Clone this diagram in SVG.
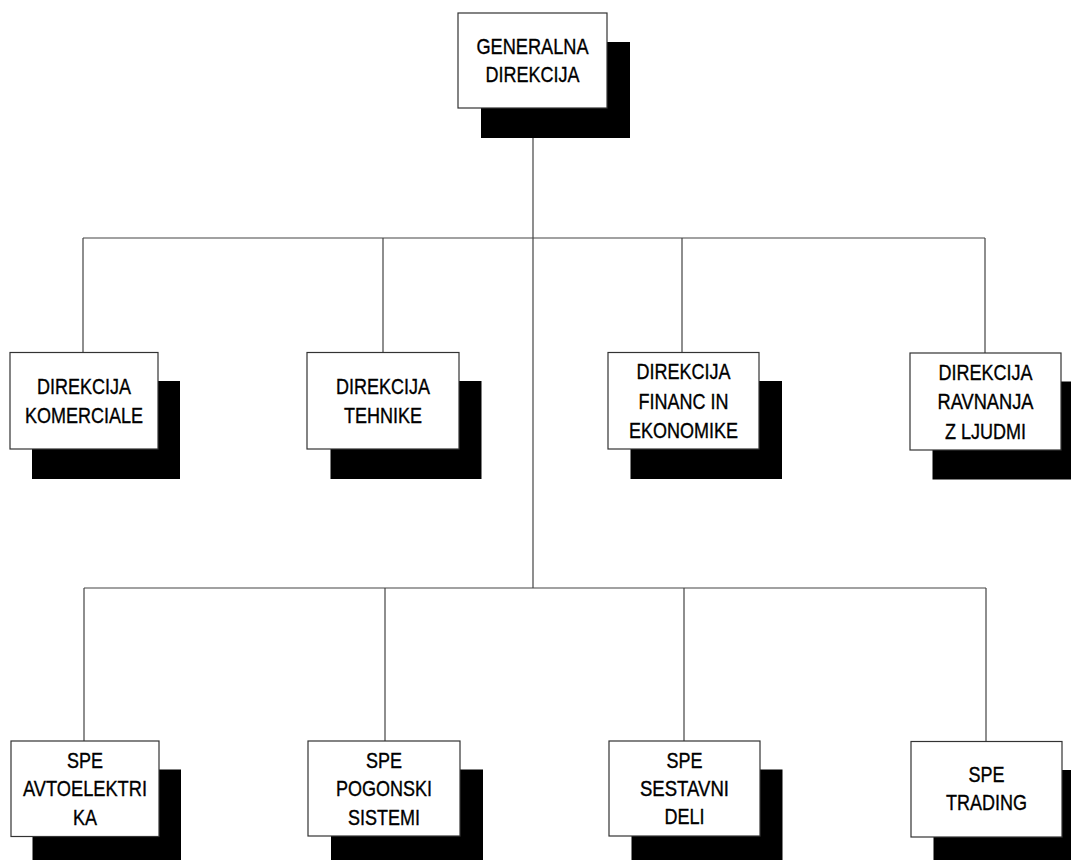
<svg xmlns="http://www.w3.org/2000/svg" width="1071" height="860" viewBox="0 0 1071 860">
<style>
.sh{fill:#000}
.bx{fill:#fff;stroke:#333;stroke-width:1.2}
.t{font-family:"Liberation Sans",Arial,sans-serif;font-size:21.5px;fill:#000;stroke:#000;stroke-width:0.35;text-anchor:middle}
.c{stroke:#444;stroke-width:1.2;fill:none}
</style>
<rect width="1071" height="860" fill="#fff"/>
<g id="connectors">
<path class="c" d="M533 108V588"/>
<path class="c" d="M83 238H985"/>
<path class="c" d="M83 238V352M383 238V352M682 238V352M985 238V353"/>
<path class="c" d="M84 588H986"/>
<path class="c" d="M84 588V741M385 588V741M684 588V741M986 588V742"/>
</g>
<g id="n-generalna">
<rect class="sh" x="481" y="42" width="149" height="96"/>
<rect class="bx" x="458" y="13" width="149" height="95"/>
<text class="t" x="532.5" y="54" textLength="112" lengthAdjust="spacingAndGlyphs">GENERALNA</text>
<text class="t" x="532.5" y="82" textLength="94" lengthAdjust="spacingAndGlyphs">DIREKCIJA</text>
</g>
<g id="n-komerciale">
<rect class="sh" x="32" y="381" width="148" height="98"/>
<rect class="bx" x="10" y="352.5" width="148" height="96.5"/>
<text class="t" x="84" y="394" textLength="94" lengthAdjust="spacingAndGlyphs">DIREKCIJA</text>
<text class="t" x="84" y="422.7" textLength="118" lengthAdjust="spacingAndGlyphs">KOMERCIALE</text>
</g>
<g id="n-tehnike">
<rect class="sh" x="330.5" y="381" width="151" height="98"/>
<rect class="bx" x="307" y="352.5" width="152" height="96.5"/>
<text class="t" x="383" y="394" textLength="94" lengthAdjust="spacingAndGlyphs">DIREKCIJA</text>
<text class="t" x="383" y="422.5" textLength="78" lengthAdjust="spacingAndGlyphs">TEHNIKE</text>
</g>
<g id="n-financ">
<rect class="sh" x="630.5" y="381" width="151.5" height="98"/>
<rect class="bx" x="608" y="352.5" width="151" height="96.5"/>
<text class="t" x="683.5" y="379" textLength="94" lengthAdjust="spacingAndGlyphs">DIREKCIJA</text>
<text class="t" x="683.5" y="409" textLength="90" lengthAdjust="spacingAndGlyphs">FINANC IN</text>
<text class="t" x="683.5" y="437.5" textLength="109" lengthAdjust="spacingAndGlyphs">EKONOMIKE</text>
</g>
<g id="n-ravnanja">
<rect class="sh" x="932.5" y="381.5" width="151" height="98"/>
<rect class="bx" x="910" y="353" width="151" height="97"/>
<text class="t" x="985.5" y="380" textLength="94" lengthAdjust="spacingAndGlyphs">DIREKCIJA</text>
<text class="t" x="985.5" y="409.3" textLength="96" lengthAdjust="spacingAndGlyphs">RAVNANJA</text>
<text class="t" x="985.5" y="439" textLength="81" lengthAdjust="spacingAndGlyphs">Z LJUDMI</text>
</g>
<g id="n-avtoelektrika">
<rect class="sh" x="32.5" y="769.5" width="148.5" height="100"/>
<rect class="bx" x="11" y="741" width="148" height="95.5"/>
<text class="t" x="85" y="767.5" textLength="36" lengthAdjust="spacingAndGlyphs">SPE</text>
<text class="t" x="85" y="796" textLength="124" lengthAdjust="spacingAndGlyphs">AVTOELEKTRI</text>
<text class="t" x="85" y="824.5" textLength="24" lengthAdjust="spacingAndGlyphs">KA</text>
</g>
<g id="n-pogonski">
<rect class="sh" x="331" y="769.5" width="152" height="100"/>
<rect class="bx" x="308" y="741" width="152" height="95"/>
<text class="t" x="384" y="767.5" textLength="36" lengthAdjust="spacingAndGlyphs">SPE</text>
<text class="t" x="384" y="796" textLength="96" lengthAdjust="spacingAndGlyphs">POGONSKI</text>
<text class="t" x="384" y="824.5" textLength="72" lengthAdjust="spacingAndGlyphs">SISTEMI</text>
</g>
<g id="n-sestavni">
<rect class="sh" x="631.5" y="769.5" width="151" height="100"/>
<rect class="bx" x="609" y="741" width="151" height="95"/>
<text class="t" x="684.5" y="767.5" textLength="36" lengthAdjust="spacingAndGlyphs">SPE</text>
<text class="t" x="684.5" y="796" textLength="89" lengthAdjust="spacingAndGlyphs">SESTAVNI</text>
<text class="t" x="684.5" y="824" textLength="40" lengthAdjust="spacingAndGlyphs">DELI</text>
</g>
<g id="n-trading">
<rect class="sh" x="933.5" y="770" width="151" height="100"/>
<rect class="bx" x="911" y="741.5" width="151" height="95.5"/>
<text class="t" x="986.5" y="781.7" textLength="36" lengthAdjust="spacingAndGlyphs">SPE</text>
<text class="t" x="986.5" y="810" textLength="81" lengthAdjust="spacingAndGlyphs">TRADING</text>
</g>
</svg>
